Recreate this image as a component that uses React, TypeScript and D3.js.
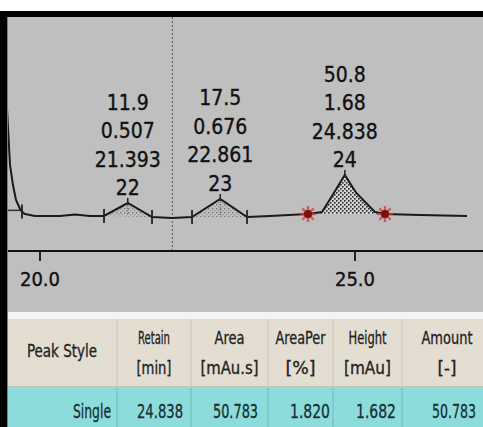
import React from "react";
import * as d3 from "d3";

// ---- data ----
const times = [19.44, 19.492, 19.524, 19.571, 19.619, 19.683, 19.73, 19.762, 19.921, 20.317, 20.556, 20.794, 21.016, 21.393, 21.778, 22.095, 22.413, 22.861, 23.286, 23.651, 24.254, 24.476, 24.66, 24.838, 25.02, 25.317, 25.476, 26.032, 26.778];
const signal = [6.5, 3.75, 2.16, 1.29, 0.65, 0.26, 0.1, 0.04, -0.04, -0.04, 0.02, -0.04, -0.04, 0.517, -0.09, -0.13, -0.09, 0.69, -0.09, -0.04, 0.04, 0.13, 0.93, 1.724, 0.95, 0.13, 0.04, 0, -0.04];

const peakNumbers = ["22", "23", "24"];
const peakRT = [21.393, 22.861, 24.838];
const peakAreaLabels = ["11.9", "17.5", "50.8"];
const peakHeightLabels = ["0.507", "0.676", "1.68"];
const peakRTLabels = ["21.393", "22.861", "24.838"];
const peakStart = [21.016, 22.413, 24.254];
const peakEnd = [21.778, 23.286, 25.476];
const peakSelected = [false, false, true];
const solventMarkTime = 19.714;
const cursorTime = 22.1;

const axisTicks = [20, 25];

const tableHeaders1 = ["Peak Style", "Retain", "Area", "AreaPer", "Height", "Amount"];
const tableHeaders2 = ["", "[min]", "[mAu.s]", "[%]", "[mAu]", "[-]"];
const tableRow = ["Single", "24.838", "50.783", "1.820", "1.682", "50.783"];

// ---- layout ----
const W = 483;
const H = 427;
const plotLeft = 8;
const plotTop = 17;
const axisY = 251;

const x = d3.scaleLinear().domain([20, 25]).range([40, 355]);
const y = d3.scaleLinear().domain([0, 1]).range([215, 191.8]);

const bis = d3.bisector((d: number) => d).left;
function sigAt(t: number): number {
  const i = Math.max(1, Math.min(times.length - 1, bis(times, t)));
  const t0 = times[i - 1], t1 = times[i];
  const f = (t - t0) / (t1 - t0);
  return signal[i - 1] + f * (signal[i] - signal[i - 1]);
}

const pts: [number, number][] = times.map((t, i) => [t, signal[i]]);
const line = d3.line<[number, number]>().x(d => x(d[0])).y(d => y(d[1]));

function peakArea(k: number) {
  const s = peakStart[k], e = peakEnd[k];
  const vs = sigAt(s), ve = sigAt(e);
  const inner = times.filter(t => t > s && t < e);
  const ts = [s, ...inner, e];
  const base = (t: number) => vs + ((t - s) / (e - s)) * (ve - vs);
  const area = d3.area<number>().x(t => x(t)).y0(t => y(base(t))).y1(t => y(sigAt(t)));
  return area(ts) || "";
}

const colStarts = [8, 117, 191, 268, 333, 402];
const colEnds = [117, 191, 268, 333, 402, 492];
const headW1 = [70, 32, 30, 50, 38, 51];
const headW2 = [0, 35, 58, 30, 47, 19];
const rowW = [38, 46, 45, 40, 40, 44];
const rowRight = [111, 183, 258, 330, 396, 476];

const labelFont = "'DejaVu Sans Condensed', 'DejaVu Sans', sans-serif";

function Asterisk({ cx, cy }: { cx: number; cy: number }) {
  const r = 8;
  const angles = [0, 45, 90, 135];
  return (
    <g>
      {angles.map(a => {
        const rad = (a * Math.PI) / 180;
        return (
          <line key={a} x1={cx - r * Math.cos(rad)} y1={cy - r * Math.sin(rad)} x2={cx + r * Math.cos(rad)} y2={cy + r * Math.sin(rad)} stroke="#d23a3a" strokeWidth={2.4} strokeOpacity={0.75} />
        );
      })}
      <circle cx={cx} cy={cy} r={4} fill="#7a1010" />
    </g>
  );
}

export default function App() {
  return (
    <svg width={W} height={H} style={{ position: "absolute", left: 0, top: 0, background: "#fff" }}>
      <defs>
        <pattern id="hatch" width={4} height={4} patternUnits="userSpaceOnUse">
          <rect width={4} height={4} fill="#d4d4d4" />
          <rect x={0} y={0} width={1.6} height={1.6} fill="#2a2a2a" />
          <rect x={2} y={2} width={1.6} height={1.6} fill="#2a2a2a" />
        </pattern>
        <pattern id="hatchLight" width={4} height={4} patternUnits="userSpaceOnUse">
          <rect x={0} y={0} width={1.4} height={1.4} fill="#777" />
          <rect x={2} y={2} width={1.4} height={1.4} fill="#999" />
        </pattern>
        <clipPath id="plotClip">
          <rect x={plotLeft} y={plotTop} width={W - plotLeft} height={axisY - plotTop} />
        </clipPath>
      </defs>

      {/* plot background */}
      <rect x={0} y={0} width={W} height={H} fill="#ffffff" />
      <rect x={plotLeft} y={plotTop} width={W - plotLeft} height={312 - plotTop} fill="#bfbfbf" />

      {/* cursor dashed line */}
      <line x1={x(cursorTime)} x2={x(cursorTime)} y1={plotTop} y2={axisY} stroke="#555" strokeWidth={1} strokeDasharray="2,2" />

      <g clipPath="url(#plotClip)">
        {/* peak fills */}
        {peakNumbers.map((p, k) => (
          <path key={p} d={peakArea(k)} fill={peakSelected[k] ? "url(#hatch)" : "url(#hatchLight)"} stroke="none" />
        ))}
        {/* solvent baseline fragment */}
        <line x1={plotLeft} x2={x(solventMarkTime)} y1={y(0.2)} y2={y(0.2)} stroke="#333" strokeWidth={1.5} />
        {/* signal */}
        <path d={line(pts) || ""} fill="none" stroke="#1a1a1a" strokeWidth={2} />
        {/* solvent end tick */}
        <line x1={x(solventMarkTime)} x2={x(solventMarkTime)} y1={y(sigAt(solventMarkTime)) - 7} y2={y(sigAt(solventMarkTime)) + 7} stroke="#222" strokeWidth={1.8} />
        {/* peak markers */}
        {peakNumbers.map((p, k) => {
          const ax = x(peakRT[k]);
          const ay = y(sigAt(peakRT[k]));
          if (peakSelected[k]) {
            return (
              <g key={p}>
                <line x1={ax} x2={ax} y1={ay - 5} y2={ay + 2} stroke="#222" strokeWidth={1.5} />
                <Asterisk cx={x(peakStart[k])} cy={y(sigAt(peakStart[k]))} />
                <Asterisk cx={x(peakEnd[k])} cy={y(sigAt(peakEnd[k]))} />
              </g>
            );
          }
          return (
            <g key={p}>
              {[peakStart[k], peakEnd[k]].map((t, j) => (
                <line key={j} x1={x(t)} x2={x(t)} y1={y(sigAt(t)) - 7} y2={y(sigAt(t)) + 7} stroke="#222" strokeWidth={1.8} />
              ))}
              <line x1={ax} x2={ax} y1={ay - 5} y2={ay + 2} stroke="#222" strokeWidth={1.5} />
              <line x1={ax} x2={ax} y1={ay} y2={y(0)} stroke="#444" strokeWidth={1} strokeDasharray="1,1.5" />
            </g>
          );
        })}
      </g>

      {/* peak labels */}
      {peakNumbers.map((p, k) => {
        const ax = x(peakRT[k]);
        const by = y(sigAt(peakRT[k])) - 8;
        const lines = [peakAreaLabels[k], peakHeightLabels[k], peakRTLabels[k], p];
        return (
          <g key={p} fontFamily={labelFont} fontSize={21} fill="#111" stroke="#111" strokeWidth={0.35} textAnchor="middle">
            {lines.map((s, i) => (
              <text key={i} x={ax} y={by - (3 - i) * 28.5}>{s}</text>
            ))}
          </g>
        );
      })}

      {/* axis */}
      <line x1={plotLeft} x2={W} y1={axisY} y2={axisY} stroke="#111" strokeWidth={2} />
      {axisTicks.map(t => (
        <g key={t}>
          <line x1={x(t)} x2={x(t)} y1={axisY} y2={axisY + 10} stroke="#222" strokeWidth={2} />
          <text x={x(t)} y={286} textAnchor="middle" fontFamily={labelFont} fontSize={20} fill="#111" stroke="#111" strokeWidth={0.35}>{t.toFixed(1)}</text>
        </g>
      ))}

      {/* table */}
      <rect x={plotLeft} y={312} width={W - plotLeft} height={7} fill="#f4f4f0" />
      <rect x={plotLeft} y={319} width={W - plotLeft} height={68} fill="#e3ded1" />
      <line x1={plotLeft} x2={W} y1={387} y2={387} stroke="#b9b7a8" strokeWidth={1.5} />
      <rect x={plotLeft} y={388} width={W - plotLeft} height={H - 388} fill="#8ddcdc" />
      {colStarts.slice(1).map((cx, i) => (
        <g key={i}>
          <line x1={cx} x2={cx} y1={319} y2={387} stroke="#c9c5b8" strokeWidth={1} />
          <line x1={cx} x2={cx} y1={388} y2={H} stroke="#6fb9b9" strokeWidth={1} />
        </g>
      ))}
      {tableHeaders1.map((s, i) => {
        const cx = (colStarts[i] + colEnds[i]) / 2;
        const twoLine = tableHeaders2[i] !== "";
        return (
          <g key={i} fontFamily={labelFont} fontSize={17} fill="#222" stroke="#222" strokeWidth={0.3} textAnchor="middle">
            <text x={i === 0 ? 62 : i === 5 ? 447 : cx} y={twoLine ? 344 : 357} textLength={headW1[i]} lengthAdjust="spacingAndGlyphs">{s}</text>
            {twoLine && (
              <text x={i === 5 ? 447 : cx} y={374} textLength={headW2[i]} lengthAdjust="spacingAndGlyphs">{tableHeaders2[i]}</text>
            )}
          </g>
        );
      })}
      {tableRow.map((s, i) => (
        <text key={i} x={rowRight[i]} y={418} textAnchor="end" fontFamily={labelFont} fontSize={19} fill="#163030" stroke="#163030" strokeWidth={0.3} textLength={rowW[i]} lengthAdjust="spacingAndGlyphs">{s}</text>
      ))}

      {/* borders */}
      <rect x={0} y={11} width={W} height={6} fill="#000" />
      <rect x={0} y={11} width={7.5} height={H - 11} fill="#000" />
    </svg>
  );
}
